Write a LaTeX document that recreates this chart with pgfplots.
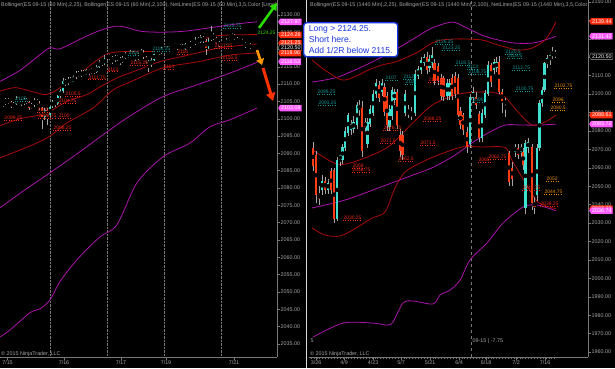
\documentclass[border=0pt]{standalone}
\usepackage{pgfplots}
\pgfplotsset{compat=1.18}
\usepackage{pgfplotstable}
\usepackage{fontspec}
\setmainfont{Liberation Sans}
\usetikzlibrary{shapes.symbols,arrows.meta}

\definecolor{upc}{RGB}{64,224,208}
\definecolor{dnc}{RGB}{255,60,20}
\definecolor{wick}{RGB}{165,165,165}
\definecolor{bbred}{RGB}{170,10,10}
\definecolor{bbmag}{RGB}{170,20,170}
\definecolor{tealt}{RGB}{20,150,150}
\definecolor{labred}{RGB}{240,40,20}
\definecolor{orng}{RGB}{230,140,0}
\definecolor{tagmag}{RGB}{255,90,255}
\definecolor{tagred}{RGB}{255,45,15}
\definecolor{axgray}{RGB}{120,120,120}
\definecolor{txtgray}{RGB}{165,165,165}
\definecolor{boxblue}{RGB}{25,55,225}
\definecolor{limeg}{RGB}{40,220,0}
\definecolor{arrorange}{RGB}{255,150,0}
\definecolor{arrred}{RGB}{255,50,0}

\newcommand\fs{\fontsize{5.4}{6}\selectfont}
\newcommand\fl{\fontsize{5}{5.5}\selectfont}

\pgfplotsset{
  ninja/.style={
    scale only axis, clip mode=individual,
    axis x line*=bottom, axis y line*=right,
    axis line style={draw=axgray, line width=0.6bp, -},
    tick style={draw=axgray, line width=0.5bp},
    major tick length=2.5bp, minor tick length=1.5bp, tick align=outside,
    tick label style={font=\fs, text=txtgray},
    yticklabel={\pgfmathprintnumber[fixed,fixed zerofill,precision=2,1000 sep={},assume math mode=true]{\tick}},
    yticklabel style={inner sep=1bp},
    xticklabel style={inner sep=1bp},
    extra x tick style={grid=major, major tick length=0pt, major grid style={draw=axgray, densely dotted, line width=0.5bp}},
    extra x tick labels={},
  },
}
\tikzset{
  tagst/.style={signal, signal to=west, signal pointer angle=120, font=\fs, text=white, inner xsep=1bp, inner ysep=0.6bp, anchor=west, minimum height=6.5bp},
  nl/.style={font=\fl, inner sep=0.3bp, anchor=south west},
}
\newcommand{\nlab}[4]{\node[nl,text=#1] (tmpn) at (axis cs:#2,#3) {#4};\draw[#1,dotted,line width=0.4bp] (tmpn.south west)--(tmpn.south east);}
\newcommand{\candles}[3]{%
 \addplot[only marks, mark=none, forget plot, error bars/.cd, y dir=both, y explicit, error mark=none, error bar style={line width=#3, draw=wick}]
   table[x=x, y expr={(\thisrow{h}+\thisrow{l})/2}, y error expr={(\thisrow{h}-\thisrow{l})/2}] {#1};
 \addplot[only marks, mark=none, forget plot, restrict expr to domain={\thisrow{c}-\thisrow{o}}{0:1000}, error bars/.cd, y dir=both, y explicit, error mark=none, error bar style={line width=#2, draw=upc}]
   table[x=x, y expr={(\thisrow{o}+\thisrow{c})/2}, y error expr={max(abs(\thisrow{c}-\thisrow{o})/2,0.2)}] {#1};
 \addplot[only marks, mark=none, forget plot, restrict expr to domain={\thisrow{o}-\thisrow{c}}{0.001:1000}, error bars/.cd, y dir=both, y explicit, error mark=none, error bar style={line width=#2, draw=dnc}]
   table[x=x, y expr={(\thisrow{o}+\thisrow{c})/2}, y error expr={max(abs(\thisrow{c}-\thisrow{o})/2,0.2)}] {#1};
}

\pgfplotstableread{
x o h l c
3.0 2104.0 2105.0 2103.5 2104.5
5.6 2104.5 2106.0 2104.0 2105.5
8.2 2105.5 2106.0 2104.25 2104.75
10.8 2104.75 2105.25 2103.0 2103.5
13.4 2103.5 2104.75 2103.0 2104.25
16.0 2104.25 2106.5 2104.0 2105.75
18.6 2105.75 2106.25 2104.75 2105.25
21.2 2105.25 2105.75 2103.75 2104.5
23.8 2104.5 2106.0 2104.0 2105.5
26.4 2105.5 2106.0 2104.25 2104.75
29.0 2104.75 2105.0 2102.5 2103.25
31.6 2103.25 2104.5 2102.75 2104.0
34.2 2104.0 2106.0 2103.5 2105.25
36.8 2105.25 2105.75 2104.0 2104.5
39.4 2104.5 2105.0 2102.5 2103.0
42.0 2103.0 2103.5 2097.0 2100.5
44.6 2100.5 2103.25 2099.75 2102.5
47.2 2102.5 2103.0 2098.25 2101.0
49.8 2101.0 2104.0 2100.5 2103.5
52.4 2103.5 2105.5 2103.0 2105.0
55.0 2105.0 2105.5 2103.5 2104.25
57.6 2104.25 2107.0 2104.0 2106.5
60.2 2106.5 2108.5 2106.0 2108.0
62.8 2108.0 2111.75 2107.5 2111.0
65.4 2111.0 2111.5 2109.5 2110.25
68.0 2110.25 2112.0 2109.75 2111.5
70.6 2111.5 2112.0 2110.25 2110.75
73.2 2110.75 2112.5 2110.5 2112.0
75.8 2112.0 2113.75 2111.5 2113.25
78.4 2113.25 2113.75 2112.0 2112.5
81.0 2112.5 2114.0 2112.0 2113.5
83.6 2113.5 2114.0 2112.25 2112.75
86.2 2112.75 2114.5 2112.5 2114.0
88.8 2114.0 2114.5 2112.75 2113.25
91.4 2113.25 2114.75 2113.0 2114.25
94.0 2114.25 2114.5 2113.0 2113.5
96.6 2113.5 2115.5 2113.25 2115.0
99.2 2115.0 2117.0 2114.75 2116.5
101.8 2116.5 2117.0 2115.25 2115.75
104.4 2115.75 2118.5 2115.5 2117.5
107.0 2117.5 2118.75 2117.0 2118.25
109.6 2118.25 2118.75 2117.0 2117.5
112.2 2117.5 2118.0 2115.75 2117.0
114.8 2117.0 2118.5 2116.5 2118.0
117.4 2118.0 2118.5 2116.75 2117.25
120.0 2117.25 2117.75 2115.5 2116.5
122.6 2116.5 2118.0 2116.0 2117.5
125.2 2117.5 2119.25 2117.25 2118.75
127.8 2118.75 2119.0 2117.5 2118.0
130.4 2118.0 2119.75 2117.75 2119.0
133.0 2119.0 2119.5 2117.75 2118.25
135.6 2118.25 2118.75 2116.75 2117.5
138.2 2117.5 2119.0 2117.0 2118.5
140.8 2118.5 2120.0 2118.25 2119.25
143.4 2119.25 2119.75 2117.25 2117.75
146.0 2117.75 2118.25 2115.75 2116.5
148.6 2116.5 2117.0 2113.5 2115.5
151.2 2115.5 2117.5 2115.0 2117.0
153.8 2117.0 2119.25 2116.75 2118.75
156.4 2118.75 2120.0 2118.5 2119.5
159.0 2119.5 2120.0 2118.5 2119.0
161.6 2119.0 2120.75 2118.75 2120.25
164.2 2120.25 2120.75 2119.25 2119.75
166.8 2119.75 2121.0 2119.5 2120.5
169.4 2120.5 2121.0 2119.5 2120.0
172.0 2120.0 2121.25 2119.75 2120.75
174.6 2120.75 2121.75 2120.5 2121.25
177.2 2121.25 2121.75 2120.0 2120.5
179.8 2120.5 2121.5 2120.25 2121.0
182.4 2121.0 2121.5 2119.75 2120.25
185.0 2120.25 2122.0 2120.0 2121.5
187.6 2121.5 2122.0 2120.5 2120.75
190.2 2120.75 2122.5 2120.5 2122.0
192.8 2122.0 2122.5 2121.0 2121.5
195.4 2121.5 2123.5 2121.25 2123.0
198.0 2123.0 2123.5 2121.75 2122.25
200.6 2122.25 2124.25 2122.0 2123.5
203.2 2123.5 2124.0 2122.0 2122.5
205.8 2122.5 2123.0 2118.5 2120.5
208.4 2120.5 2123.25 2120.25 2122.75
211.0 2122.75 2126.75 2122.5 2124.0
213.6 2124.0 2124.75 2122.75 2123.25
216.2 2123.25 2123.75 2121.5 2122.0
218.8 2122.0 2122.5 2120.75 2121.25
221.4 2121.25 2122.5 2121.0 2122.0
224.0 2122.0 2122.5 2121.0 2121.5
226.6 2121.5 2123.25 2121.25 2122.75
229.2 2122.75 2124.0 2122.5 2123.5
231.8 2123.5 2124.75 2123.25 2124.25
234.4 2124.25 2124.5 2122.75 2123.0
237.0 2123.0 2123.5 2121.75 2122.25
239.6 2122.25 2123.25 2122.0 2122.75
242.2 2122.75 2123.0 2121.25 2121.75
244.8 2121.75 2122.25 2120.5 2121.0
247.4 2121.0 2122.0 2120.75 2121.5
250.0 2121.5 2121.75 2120.25 2120.5
}\leftcandles

\pgfplotstableread{
x o h l c
313 2071 2074 2058 2061
316 2067 2069 2041 2045
319 2046 2050 2040 2043
322 2048 2056 2045 2053
325 2053 2055 2046 2048
328 2048 2054 2046 2052
331 2058 2060 2046 2048
334 2059 2060 2030.25 2032
337 2032 2066 2031 2064
340 2064 2068 2061 2067
342.5 2064 2073 2062 2071.5
345 2071 2082 2069 2080
348 2079 2090 2077 2088.5
351 2080.5 2086 2078 2084
353.5 2081 2088 2079 2085
357 2083 2096 2081 2094
359.5 2094 2097 2088 2092
362 2093 2096 2066 2069
365 2085 2087 2079 2082
367.5 2073 2087 2071 2085
370 2084 2094 2082 2092
373 2090 2102 2088 2100
376 2100 2108 2098 2106
379 2105 2107 2096 2098
382 2101 2108 2099 2106
384.5 2104 2106 2088 2090.5
387 2099 2101 2080 2083
389.5 2082 2094 2080 2092
392 2088 2104 2086 2102
394.5 2097 2103 2094 2101
397 2101 2103 2081 2083
400 2078 2081 2066 2069
402.5 2078 2080 2064 2067
405 2090 2102 2088 2100
408 2091 2094 2087 2089
411 2088 2093 2086 2090
415 2090 2113 2088 2111
418 2110 2115 2108 2113.5
421 2113 2120 2111 2118.5
424 2117 2122 2115 2120
427 2120 2123 2111 2113
429.5 2114 2121 2112 2119
432 2116 2125.5 2114 2121
434.5 2117 2119 2105 2107
438 2115 2117 2105 2107
441 2109 2111 2097 2099
443.5 2108.5 2110 2096 2098.6
447 2099 2108 2097 2106
449.5 2099 2108 2097 2106
452 2109 2111 2097 2099
455 2110 2112 2098 2100
458 2109 2111 2086 2088.6
460.5 2091 2093 2081 2083
463 2088.6 2090 2078 2080.5
467 2079.6 2082 2068 2071.5
470 2073 2100 2071 2098.6
473 2097.7 2104 2095 2101.3
476 2098.6 2101 2092 2094
479 2089 2091 2074 2076
482 2076 2092 2074 2090
485 2088.6 2102 2087 2100.4
488 2100 2118 2099 2115.8
491 2115.8 2117 2104 2106.7
494 2113 2119 2111 2117.6
496.5 2114 2120 2112 2117.6
499 2117.6 2120.5 2100 2101.3
502 2101.3 2103 2090 2096
505 2096 2097.7 2087.7 2095
509 2067.8 2069 2050 2052.5
512 2060 2063 2050 2054
515 2068.7 2073 2066 2071.4
518 2070.6 2073 2065 2067
521 2068.7 2073 2066 2071.4
523 2068.7 2071 2059 2061.5
525.5 2038 2075 2035 2073.3
528 2070.6 2076 2068 2074.2
532 2071.4 2073 2037 2040.7
534.5 2041.6 2044 2035 2038.9
537 2045 2073 2042 2071
539.5 2071 2097 2069 2095
542 2095 2104 2093 2102
544.5 2102 2117.5 2101 2116.7
547.5 2116.7 2121 2114 2119.4
550 2118.5 2123 2116 2121
552.5 2121 2125.5 2119 2122.5
555 2122.5 2124 2119.5 2120.5
}\rightcandles

\begin{document}
\begin{tikzpicture}[x=1bp,y=1bp]
\fill[black] (0,0) rectangle (615,368);

% ---------------- left panel (60 min) ----------------
\begin{axis}[ninja, at={(0bp,11bp)}, anchor=south west, width=277bp, height=357bp,
  xmin=0, xmax=277, ymin=2031.2, ymax=2134.3,
  ytick={2035,2040,...,2130},
  xtick={7.5,64,121,166,234}, xticklabels={7/15,7/16,7/17,7/19,7/21},
  extra x ticks={50,107,164,221}]
\addplot[bbmag, line width=0.8bp, smooth] coordinates {(0,2110.8) (20,2114) (40,2118.5) (50,2120.5) (60,2120.2) (83,2123.4) (100,2125.5) (115,2126.7) (125,2126.5) (140,2125.3) (160,2125) (185,2125.3) (215,2126.5) (240,2127.5) (257,2128)};
\addplot[bbmag, line width=0.8bp, smooth] coordinates {(0,2074.3) (25,2079.5) (50,2084.4) (80,2090.5) (107,2096.2) (130,2100.8) (163,2106.4) (197,2109.8) (230,2113.2) (257,2116.3)};
\addplot[bbmag, line width=0.8bp, smooth] coordinates {(0,2037) (10,2039) (30,2044) (40,2045.1) (50,2047.7) (60,2053) (77,2059.3) (100,2065.9) (117,2069.4) (137,2081.5) (163,2089) (190,2093) (210,2097.7) (230,2099.7) (257,2103.1)};
\addplot[bbred, line width=0.8bp, smooth] coordinates {(0,2108) (15,2109) (30,2108) (45,2107) (55,2108) (65,2110) (80,2113) (95,2116.5) (110,2119) (135,2119.5) (155,2119.5) (180,2120.8) (210,2123.6) (230,2124.2) (257,2124.3)};
\addplot[bbred, line width=0.8bp, smooth] coordinates {(0,2098) (20,2100) (45,2101.5) (67,2105) (87,2107) (100,2109.2) (117,2111.8) (137,2114) (160,2116.5) (190,2118.5) (220,2120.5) (257,2121.6)};
\addplot[bbred, line width=0.8bp, smooth] coordinates {(0,2088.7) (33,2092.5) (50,2095) (67,2098.8) (93,2103.1) (113,2108.3) (130,2110.6) (163,2114.7) (197,2116.4) (230,2118.4) (257,2119)};
\candles{\leftcandles}{1.8bp}{0.5bp}
% NetLines labels
\nlab{tealt}{15}{2105.2}{2105}
\nlab{labred}{4}{2099.7}{2099.25}
\nlab{labred}{37}{2102}{2103}
\nlab{labred}{38}{2100.3}{2098.75}
\nlab{labred}{58}{2100.3}{2100}
\nlab{labred}{53}{2096.8}{2098.25}
\nlab{labred}{65}{2106.6}{2105.5}
\nlab{labred}{58}{2104.6}{2104.75}
\nlab{labred}{107}{2113.6}{2113}
\nlab{labred}{88}{2111.3}{2111.75}
\nlab{tealt}{152}{2119.6}{2118.25}
\nlab{tealt}{128}{2118.4}{2116}
\nlab{labred}{130}{2115.5}{2115.25}
\nlab{labred}{163}{2114.4}{2114}
\nlab{labred}{177}{2118.7}{2116}
\nlab{labred}{222}{2117}{2116.5}
\nlab{labred}{214}{2120.3}{2121.25}
\nlab{tealt}{223}{2126.2}{2125.75}
\node[font=\fl, text=limeg, anchor=south west, inner sep=0.3bp] at (axis cs:257,2124.3) {2124.25};
% price tags
\node[tagst, fill=tagmag] at (axis cs:278,2127.97) {2127.97};
\node[tagst, fill=tagred] at (axis cs:278,2124.26) {2124.26};
\node[tagst, fill=tagred] at (axis cs:278,2121.85) {2121.25};
\node[tagst, fill=black, draw=txtgray, line width=0.3bp] at (axis cs:278,2120.5) {2120.50};
\node[tagst, fill=tagred] at (axis cs:278,2118.96) {2118.96};
\node[tagst, fill=tagmag] at (axis cs:278,2116.53) {2116.53};
\node[tagst, fill=tagmag] at (axis cs:278,2103.09) {2103.09};
\end{axis}

% ---------------- right panel (daily) ----------------
\begin{axis}[ninja, at={(309bp,11bp)}, anchor=south west, width=279bp, height=357bp,
  xmin=309, xmax=588, ymin=1957.3, ymax=2151.1,
  ytick={1960,1970,...,2150},
  xtick={316,344,373,401,430,459,486,516,545}, xticklabels={3/26,4/9,4/23,5/7,5/21,6/4,6/18,7/2,7/16},
  minor xtick={311,313.9,...,556},
  extra x ticks={471}, extra x tick style={major grid style={draw=axgray, dashed, line width=0.5bp}}]
\addplot[bbmag, line width=0.8bp, smooth] coordinates {(312,2106.6) (338,2109.3) (372,2117.4) (398,2125) (415,2130.5) (432,2135.9) (452,2139.1) (465,2136.4) (482,2132) (498,2129.4) (515,2127.7) (532,2127.7) (545,2129.4) (556,2131.4)};
\addplot[bbmag, line width=0.8bp, smooth] coordinates {(312,2038.2) (345,2042.5) (378,2049) (405,2054.5) (432,2060) (455,2066.9) (472,2073.5) (488,2078.9) (505,2083.2) (522,2083.2) (538,2083.2) (556,2083.7)};
\addplot[bbmag, line width=0.8bp, smooth] coordinates {(313,1968.1) (343,1975.7) (373,1975.7) (387,1974.6) (393,1976.3) (403,1986.6) (413,1987.7) (433,1986.1) (440,1991) (450,1993.6) (460,1999) (470,2010) (487,2019.2) (503,2030) (523,2038.7) (537,2039.8) (556,2036.7)};
\addplot[bbred, line width=0.8bp, smooth] coordinates {(312,2118.5) (325,2113) (342,2107.7) (355,2109.5) (368,2113) (382,2115.8) (395,2117.4) (405,2119.6) (418,2122.9) (432,2127.7) (442,2129.4) (460,2130) (482,2129.4) (492,2127.7) (505,2125.6) (518,2123.9) (532,2125) (545,2129.4) (553,2136) (556,2139.4)};
\addplot[bbred, line width=0.8bp, smooth] coordinates {(312,2070) (337,2062) (358,2064) (388,2071.3) (412,2084) (432,2094) (455,2099.5) (472,2101) (492,2101) (505,2098.4) (518,2090.3) (532,2083.2) (545,2084.9) (556,2088.6)};
\addplot[bbred, line width=0.8bp, smooth] coordinates {(312,2027.3) (325,2023.5) (340,2023) (355,2027) (372,2032.7) (385,2036) (395,2049) (405,2057.7) (422,2063.1) (438,2066.9) (462,2071.3) (482,2071.3) (505,2071) (512,2064) (525,2052.3) (538,2041.4) (556,2037.8)};
\candles{\rightcandles}{2.4bp}{0.6bp}
\nlab{tealt}{317}{2100.1}{2099.25}
\nlab{tealt}{318}{2094.1}{2093.25}
\nlab{tealt}{385}{2107.7}{2107}
\nlab{tealt}{403}{2108.2}{2112}
\nlab{tealt}{405}{2105.5}{2116}
\nlab{labred}{428}{2106.6}{2108.5}
\nlab{labred}{383}{2080.5}{2076.75}
\nlab{labred}{380}{2073.5}{2071.5}
\nlab{labred}{352}{2059.9}{2059}
\nlab{labred}{352}{2057.7}{2056.75}
\nlab{labred}{398}{2063.7}{2062.5}
\nlab{labred}{420}{2072.4}{2071.5}
\nlab{labred}{423}{2085.4}{2088.25}
\nlab{labred}{343}{2031.7}{2030.25}
\nlab{tealt}{435}{2127.2}{2126.25}
\nlab{tealt}{442}{2123.9}{2123.25}
\nlab{tealt}{455}{2115.8}{2118.5}
\nlab{tealt}{467}{2113.4}{2113}
\nlab{tealt}{468}{2110.9}{2108.75}
\nlab{tealt}{472}{2095.7}{2095}
\nlab{tealt}{505}{2121.6}{2120.5}
\nlab{tealt}{507}{2119.4}{2119.5}
\nlab{tealt}{512}{2113.1}{2112.75}
\nlab{tealt}{515}{2101.7}{2100.75}
\nlab{labred}{478}{2063.1}{2065}
\nlab{labred}{488}{2064.7}{2062.75}
\nlab{labred}{522}{2048}{2048.75}
\nlab{orng}{554}{2103.2}{2102.75}
\nlab{orng}{552}{2095.7}{2096}
\nlab{orng}{550}{2091.4}{2090.5}
\nlab{orng}{546}{2052.8}{2052}
\nlab{orng}{544}{2045.8}{2044.75}
\nlab{labred}{540}{2039.3}{2038.25}
\node[font=\fs, text=txtgray, anchor=west, inner sep=0.5bp] at (axis cs:472,1966) {09-15 | -7.75};
\node[font=\fs, text=txtgray, anchor=west, inner sep=0.5bp] at (axis cs:310,1966) {5};
% price tags
\node[tagst, fill=tagred] at (axis cs:589,2139.44) {2139.44};
\node[tagst, fill=tagmag] at (axis cs:589,2131.42) {2131.42};
\node[tagst, fill=black, draw=txtgray, line width=0.3bp] at (axis cs:589,2120.5) {2120.50};
\node[tagst, fill=tagred] at (axis cs:589,2088.61) {2088.61};
\node[tagst, fill=tagmag] at (axis cs:589,2083.72) {2083.72};
\node[tagst, fill=tagred] at (axis cs:589,2037.78) {2037.78};
\node[tagst, fill=tagmag] at (axis cs:589,2036.74) {2036.74};
\end{axis}

% panel divider
\draw[white!85!black, line width=1bp] (306.5,0) -- (306.5,368);

% titles and credits
\begin{scope}
\clip (0,0) rectangle (277,368);
\node[font=\fs, text=txtgray, anchor=west, inner sep=0pt] at (1,363) {Bollinger(ES 09-15 (60 Min),2,25), Bollinger(ES 09-15 (60 Min),2,100), NetLines(ES 09-15 (60 Min),3,5,Color [Lime],Color};
\end{scope}
\begin{scope}
\clip (309,0) rectangle (588,368);
\node[font=\fs, text=txtgray, anchor=west, inner sep=0pt] at (310,363) {Bollinger(ES 09-15 (1440 Min),2,25), Bollinger(ES 09-15 (1440 Min),2,100), NetLines(ES 09-15 (1440 Min),3,5,Color [Lime]};
\end{scope}
\node[font=\fs, text=txtgray, anchor=west, inner sep=0pt] at (1,14) {\textcopyright\ 2015 NinjaTrader, LLC};
\node[font=\fs, text=txtgray, anchor=west, inner sep=0pt] at (310,14) {\textcopyright\ 2015 NinjaTrader, LLC};

% arrows
\draw[-{Triangle[width=8bp,length=7bp]}, line width=2.6bp, limeg] (259,340) -- (277,365);
\draw[-{Triangle[width=8bp,length=6bp]}, line width=2.6bp, arrorange] (257,318) -- (262,303);
\draw[-{Triangle[width=9bp,length=8bp]}, line width=3bp, arrred] (263,300) -- (273,267);

% annotation box
\node[draw=boxblue, line width=1.4bp, rounded corners=3bp, fill=white, text=boxblue, align=left,
  font=\fontsize{8.6}{11}\selectfont, inner xsep=3.5bp, inner ysep=2bp, anchor=north west,
  minimum width=94bp, minimum height=34bp] at (303,346) {Long > 2124.25.\\Short here.\\Add 1/2R below 2115.};
\pgfresetboundingbox
\path[use as bounding box] (0,0) rectangle (615,368);
\end{tikzpicture}
\end{document}
